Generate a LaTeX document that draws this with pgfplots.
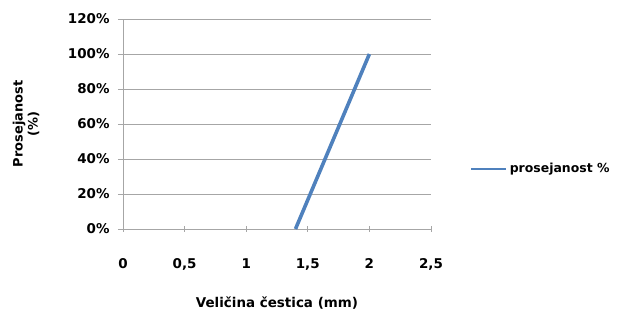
\documentclass[border=0pt]{standalone}
\usepackage{fontspec}
\setmainfont{DejaVu Sans}
\usepackage{pgfplots}
\pgfplotsset{compat=1.18}
\definecolor{excelblue}{HTML}{4F81BD}
\definecolor{gridgray}{HTML}{A6A6A6}
\begin{document}
\begin{tikzpicture}
\useasboundingbox (0,0) rectangle (620bp,314bp);
\begin{axis}[
  at={(123bp,85bp)}, anchor=south west,
  scale only axis, width=308bp, height=210bp,
  xmin=0, xmax=2.5, ymin=0, ymax=120,
  xtick={0,0.5,1,1.5,2,2.5},
  xticklabels={0,{0,5},1,{1,5},2,{2,5}},
  ytick={0,20,40,60,80,100,120},
  yticklabels={0\%,20\%,40\%,60\%,80\%,100\%,120\%},
  ymajorgrids, grid style={gridgray, line width=0.8pt},
  axis x line*=bottom, axis y line*=left,
  axis line style={gridgray, line width=0.8pt},
  x axis line style={-}, y axis line style={-},
  tick style={gridgray, line width=0.8pt},
  tick align=outside, major tick length=5bp,
  xtick style={yshift=2.5bp},
  ticklabel style={font=\fontsize{13.5}{15}\selectfont\bfseries, text=black},
  xticklabel style={yshift=-21bp},
  yticklabel style={xshift=-5bp},
  xlabel={Veličina čestica (mm)},
  xlabel style={font=\fontsize{13.5}{15}\selectfont\bfseries, at={(axis description cs:0.5,-0.352)}, anchor=center},
  ylabel={Prosejanost\\(\%)},
  ylabel style={font=\fontsize{13}{15}\selectfont\bfseries, align=center, at={(axis description cs:-0.315,0.5)}, anchor=center},
  legend style={at={(axis description cs:1.115,0.286)}, anchor=west, draw=none, fill=none,
    font=\fontsize{12.5}{14}\selectfont\bfseries},
  legend cell align=left,
  legend image code/.code={\draw[excelblue, line width=2.8pt] (0cm,0cm) -- (1.25cm,0cm);},
  clip=false,
]
\addplot[excelblue, line width=3.6bp] coordinates {(1.4,0) (2,100)};
\addlegendentry{prosejanost \%}
\end{axis}
\end{tikzpicture}
\end{document}
